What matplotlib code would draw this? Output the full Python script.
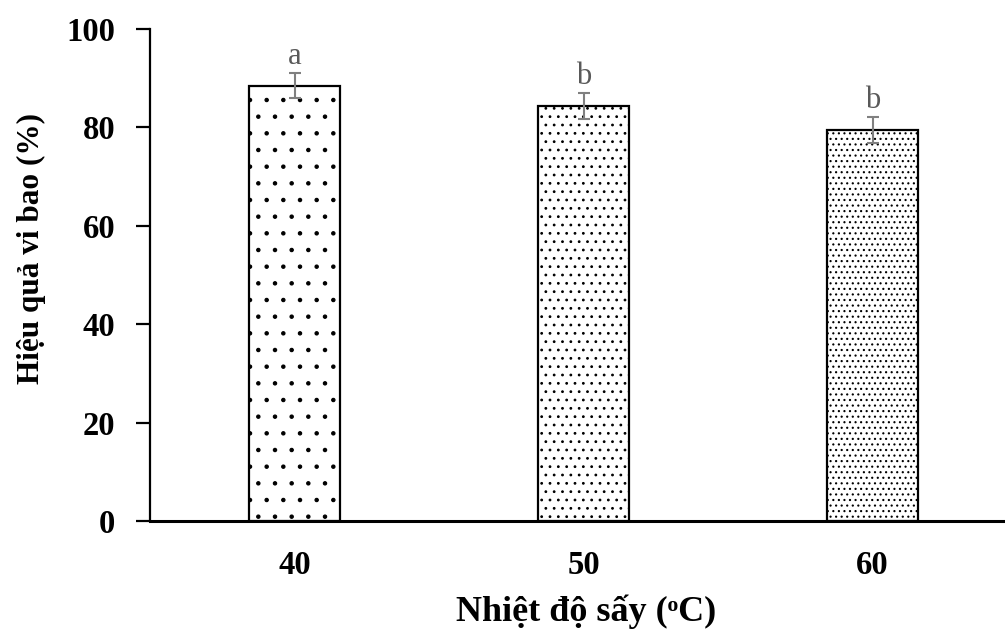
import numpy as np
import matplotlib
matplotlib.use("Agg")
import matplotlib.pyplot as plt

# data
temps = ["40", "50", "60"]
efficiency = [88.5, 84.3, 79.5]
err = [2.6, 2.6, 2.7]
letters = ["a", "b", "b"]
hatches = [".", "..", "..."]

plt.rcParams["font.family"] = ["Liberation Serif", "DejaVu Serif"]
plt.rcParams["hatch.linewidth"] = 0.8

fig = plt.figure(figsize=(10.05, 6.38), dpi=100)
# axis runs a little past the right edge, as in the reference
ax = fig.add_axes([150 / 1005, (638 - 521) / 638, 867 / 1005, (521 - 29) / 638])

x = np.arange(len(temps))
for i in range(len(temps)):
    ax.bar(x[i], efficiency[i], width=0.315, color="white", edgecolor="black",
           linewidth=1.6, hatch=hatches[i], zorder=2)
ax.errorbar(x, efficiency, yerr=err, fmt="none", ecolor="#808080",
            elinewidth=1.5, capsize=4.5, capthick=1.5, zorder=3)
for i in range(len(temps)):
    ax.text(x[i], efficiency[i] + err[i] + 0.4, letters[i], ha="center", va="bottom",
            fontsize=22, color="#595959")

ax.set_xlim(-0.5, 2.5)
ax.set_ylim(0, 100)
ax.set_yticks(np.arange(0, 101, 20))
ax.set_xticks(x)
ax.set_xticklabels(temps)

for s in ["top", "right"]:
    ax.spines[s].set_visible(False)
ax.spines["left"].set_linewidth(1.6)
ax.spines["bottom"].set_linewidth(2.2)
ax.tick_params(axis="y", direction="out", length=10, width=1.6, pad=15, labelsize=23.5)
ax.tick_params(axis="x", length=0, pad=21, labelsize=23.5)
for lab in ax.get_xticklabels() + ax.get_yticklabels():
    lab.set_fontweight("bold")

ax.set_xlabel("Nhiệt độ sấy (ᵒC)", fontsize=26, fontweight="bold", va="center")
ax.set_ylabel("Hiệu quả vi bao (%)", fontsize=22.5, fontweight="bold", va="center")
ax.xaxis.set_label_coords(436 / 867, -(612 - 521) / 492)
ax.yaxis.set_label_coords(-(150 - 31) / 867, (521 - 248) / 492)

fig.savefig("out.png", dpi=100)
